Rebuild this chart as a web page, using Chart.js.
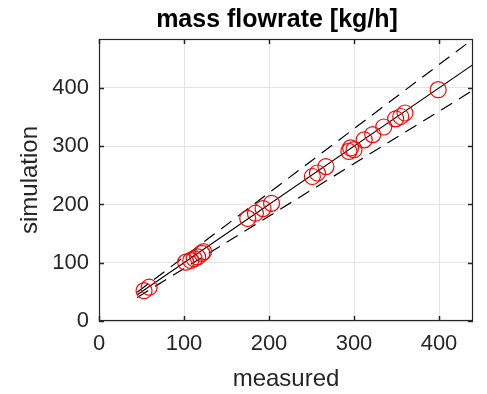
<!DOCTYPE html>
<html>
<head>
<meta charset="utf-8">
<script src="https://cdn.jsdelivr.net/npm/chart.js@4/dist/chart.umd.min.js"></script>
<style>
  html, body { margin: 0; padding: 0; background: #ffffff; }
  #wrap { width: 487px; height: 394px; }
</style>
</head>
<body>
<div id="wrap"><canvas id="c" width="487" height="394"></canvas></div>
<script>
// ---- data ----
const measured   = [53, 59, 102, 108, 112, 116, 121, 123, 175, 184, 193, 203, 251, 257, 267, 294, 296, 300, 312, 322, 335, 349, 355, 360, 399];
const simulation = [52, 58, 101, 104, 107, 110, 116, 119, 176, 185, 193, 202, 248, 254, 265, 291, 297, 294, 311, 320, 333, 347, 351, 357, 397];
const refX       = [45, 440];
const refY       = [45, 440];
const upperY     = [49.5, 484];
const lowerY     = [40.5, 396];
const xTicks     = [0, 100, 200, 300, 400];
const yTicks     = [0, 100, 200, 300, 400];
const xRange     = [0, 440];
const yRange     = [0, 484];
const titleText  = 'mass flowrate [kg/h]';
const xLabel     = 'measured';
const yLabel     = 'simulation';

const FONT = "'Liberation Sans', Arial, Helvetica, sans-serif";
const AXIS = '#262626';
const GRID = '#e3e3e3';

const pts = (xs, ys) => xs.map((x, i) => ({ x: x, y: ys[i] }));

const frame = {
  id: 'frame',
  afterDatasetsDraw(chart) {
    const { ctx, chartArea: a, scales: { x, y } } = chart;
    ctx.save();
    ctx.strokeStyle = AXIS;
    ctx.lineWidth = 1.2;
    ctx.strokeRect(a.left + 0.5, a.top + 0.5, a.right - a.left - 1, a.bottom - a.top - 1);
    ctx.lineWidth = 1.5;
    const L = 5;
    ctx.beginPath();
    xTicks.forEach(v => {
      const px = Math.round(x.getPixelForValue(v)) + 0.5;
      ctx.moveTo(px, a.bottom); ctx.lineTo(px, a.bottom - L);
      ctx.moveTo(px, a.top); ctx.lineTo(px, a.top + L);
    });
    yTicks.forEach(v => {
      const py = Math.round(y.getPixelForValue(v)) + 0.5;
      ctx.moveTo(a.left, py); ctx.lineTo(a.left + L, py);
      ctx.moveTo(a.right, py); ctx.lineTo(a.right - L, py);
    });
    ctx.stroke();
    ctx.restore();
  },
  afterDraw(chart) {
    const { ctx, chartArea: a } = chart;
    ctx.save();
    ctx.fillStyle = '#000000';
    ctx.font = "bold 25px " + FONT;
    ctx.textAlign = 'center';
    ctx.textBaseline = 'alphabetic';
    ctx.fillText(titleText, (a.left + a.right) / 2 - 9, 27);
    ctx.restore();
  }
};

new Chart(document.getElementById('c'), {
  type: 'scatter',
  data: {
    datasets: [
      {
        label: 'data',
        data: pts(measured, simulation),
        showLine: false,
        pointStyle: 'circle',
        pointRadius: 8,
        pointHoverRadius: 8,
        pointBorderWidth: 1.2,
        borderColor: '#ff0000',
        backgroundColor: 'rgba(0,0,0,0)'
      },
      {
        label: 'y = x',
        data: pts(refX, refY),
        showLine: true,
        pointRadius: 0,
        borderColor: '#000000',
        borderWidth: 1.2,
        fill: false
      },
      {
        label: '+10%',
        data: pts(refX, upperY),
        showLine: true,
        pointRadius: 0,
        borderColor: '#000000',
        borderWidth: 1.2,
        borderDash: [13, 8],
        fill: false
      },
      {
        label: '-10%',
        data: pts(refX, lowerY),
        showLine: true,
        pointRadius: 0,
        borderColor: '#000000',
        borderWidth: 1.2,
        borderDash: [13, 8],
        fill: false
      }
    ]
  },
  options: {
    responsive: false,
    animation: false,
    events: [],
    layout: { padding: { left: 0, top: 39, right: 14, bottom: 0 } },
    plugins: {
      legend: { display: false },
      tooltip: { enabled: false },
      title: { display: false }
    },
    scales: {
      x: {
        type: 'linear',
        min: xRange[0], max: xRange[1],
        afterBuildTicks: s => { s.ticks = xTicks.map(v => ({ value: v })); },
        afterFit: s => { s.height = 73; },
        grid: { color: GRID, lineWidth: 1, drawTicks: false },
        border: { display: false },
        ticks: { color: '#262626', font: { family: FONT, size: 22 }, padding: 10, maxRotation: 0 },
        title: { display: true, text: xLabel, color: '#262626', font: { family: FONT, size: 24 }, padding: { top: 0, bottom: 0 } }
      },
      y: {
        type: 'linear',
        min: yRange[0], max: yRange[1],
        afterBuildTicks: s => { s.ticks = yTicks.map(v => ({ value: v })); },
        afterFit: s => { s.width = 99; },
        grid: { color: GRID, lineWidth: 1, drawTicks: false },
        border: { display: false },
        ticks: { color: '#262626', font: { family: FONT, size: 22 }, padding: 10 },
        title: { display: true, text: yLabel, color: '#262626', font: { family: FONT, size: 24 }, padding: { top: 16, bottom: 0 } }
      }
    }
  },
  plugins: [frame]
});
</script>
</body>
</html>
